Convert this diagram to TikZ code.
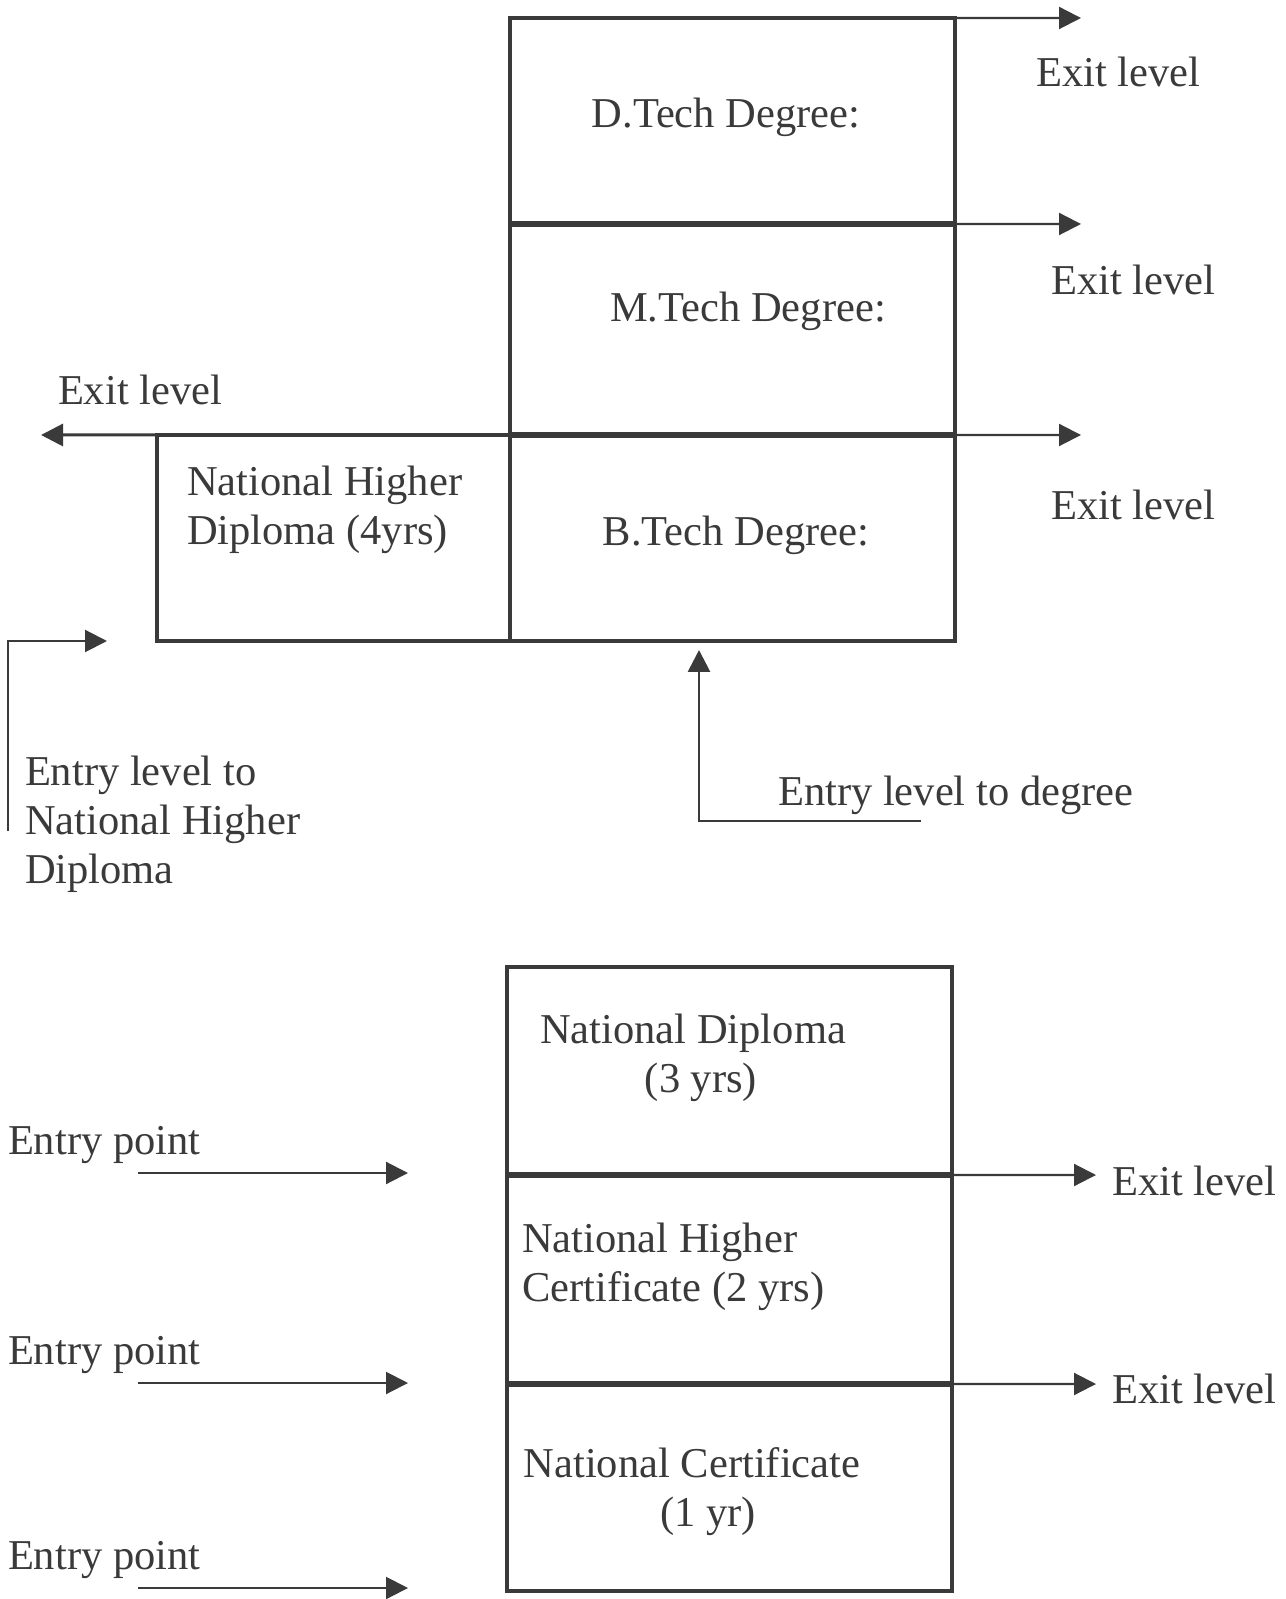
\documentclass[tikz,border=0pt]{standalone}
\usepackage{fontspec}
\setmainfont{Liberation Serif}
\usepackage{tikz}
\usetikzlibrary{arrows.meta,positioning}
\definecolor{ink}{HTML}{3A3A3A}

\begin{document}
\begin{tikzpicture}[x=0.1mm, y=-0.1mm,
  every node/.style={text=ink, font=\fontsize{12.1}{13.9}\selectfont, inner sep=0pt, outer sep=0pt},
  level/.style={draw=ink, line width=0.9pt, minimum width=44.5mm, minimum height=20.6mm},
  divider/.style={draw=ink, line width=1.5pt},
  flow/.style={draw=ink, line width=0.6pt, -{Triangle[length=2.2mm, width=2.2mm]}}]
\useasboundingbox (0,0) rectangle (1285,1599);
% degree levels
\node[level] (dtech) at (732.5,121) {};
\node[level, minimum height=21.1mm, below=0pt of dtech] (mtech) {};
\node[level, below=0pt of mtech] (btech) {};
\node[level, minimum width=35.3mm, left=0pt of btech] (nhd) {};
\draw[divider] (dtech.south west) -- (dtech.south east);
\draw[divider] (mtech.south west) -- (mtech.south east);
\node (dtechtext) at (726,117) {D.Tech Degree:};
\node (mtechtext) at (748,311) {M.Tech Degree:};
\node (btechtext) at (736,535) {B.Tech Degree:};
\node[align=left, anchor=west] (nhdtext) at (187,510) {National Higher\\Diploma (4yrs)};
% exits
\coordinate (exitd) at (1081,18);
\coordinate (exitm) at (1081,224);
\coordinate (exitb) at (1081,435);
\coordinate (exitl) at (41,435);
\draw[flow] (dtech.north west) -- (exitd);
\draw[flow] (dtech.south east) -- (exitm);
\draw[flow] (mtech.south east) -- (exitb);
\draw[flow, line width=0.85pt] (btech.north west) -- (exitl);
\node[anchor=west] (exitdtext) at (1036,72) {Exit level};
\node[anchor=west] (exitmtext) at (1051,280) {Exit level};
\node[anchor=west] (exitbtext) at (1051,505) {Exit level};
\node[anchor=west] (exitltext) at (58,390) {Exit level};
% entries
\coordinate (nhdfoot) at (8,831);
\coordinate (nhdentry) at (107,641);
\draw[flow] (nhdfoot) |- (nhdentry);
\node[align=left, anchor=west] (nhdentrytext) at (25,824) {Entry level to\\National Higher\\Diploma};
\coordinate (degfoot) at (921,821);
\coordinate (degentry) at (699,650);
\draw[flow, line width=0.8pt] (degfoot) -| (degentry);
\node[anchor=west] (degentrytext) at (778,795) {Entry level to degree};
% diploma levels
\node[level, minimum height=20.8mm] (nd) at (729.5,1071) {};
\node[level, minimum height=20.9mm, below=0pt of nd] (nhc) {};
\node[level, minimum height=20.7mm, below=0pt of nhc] (nc) {};
\draw[divider] (nd.south west) -- (nd.south east);
\draw[divider] (nhc.south west) -- (nhc.south east);
\node[align=center] (ndtext) at (693,1058) {National Diploma\\\hspace*{1.6mm}(3 yrs)};
\node[align=left, anchor=west] (nhctext) at (522,1267) {National Higher\\Certificate (2 yrs)};
\node[align=center] (nctext) at (692,1492) {National Certificate\\\hspace*{3.2mm}(1 yr)};
\coordinate (exitnd) at (1096,1175);
\coordinate (exitnhc) at (1096,1384);
\draw[flow] (nd.south east) -- (exitnd);
\draw[flow] (nhc.south east) -- (exitnhc);
\node[anchor=west] (exitndtext) at (1112,1181) {Exit level};
\node[anchor=west] (exitnhctext) at (1112,1389) {Exit level};
\foreach \y [count=\i] in {1173,1383,1588}{
  \node[anchor=west] (entry\i) at (8,\y-28) {Entry point};
  \coordinate (from\i) at (138,\y);
  \coordinate (to\i) at (408,\y);
  \draw[flow] (from\i) -- (to\i);
}
\end{tikzpicture}
\end{document}
